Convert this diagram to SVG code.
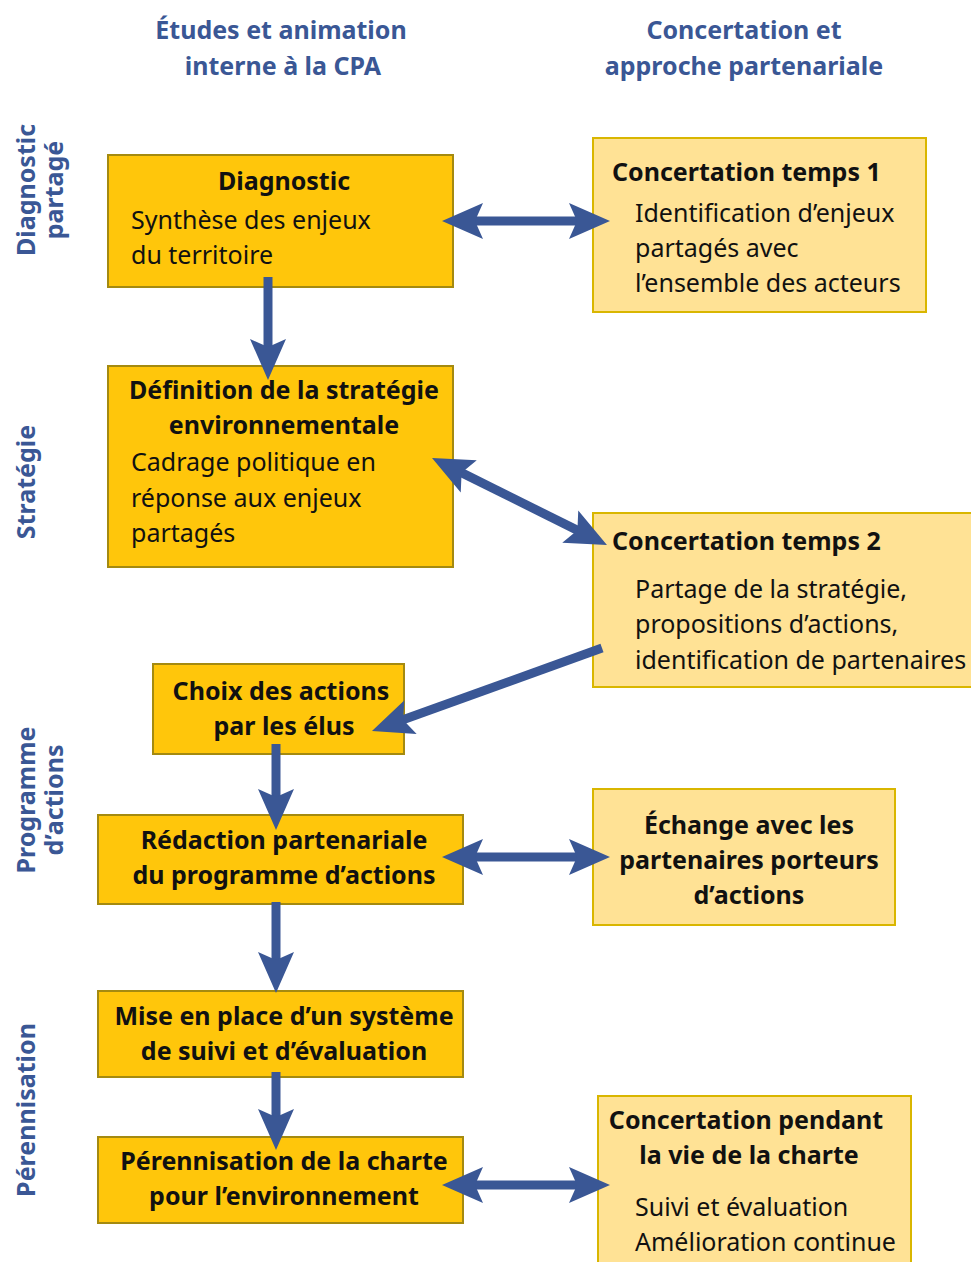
<svg xmlns="http://www.w3.org/2000/svg" width="971" height="1262" viewBox="0 0 971 1262">
<style>
text{font-family:"Noto Sans","Open Sans","Liberation Sans",sans-serif;fill:#111}
.b{font-weight:bold;font-size:25px}
.n{font-size:25px}
.c{text-anchor:middle}
.h{font-weight:bold;font-size:25px;fill:#3A5795;text-anchor:middle}
.dark{fill:#FFC60B;stroke:#A48A10;stroke-width:2}
.light{fill:#FFE295;stroke:#D9B600;stroke-width:2}
.arr{stroke:#3A5795;stroke-width:9;fill:none}
</style>
<defs>
<marker id="ah" viewBox="-42 -20 44 40" refX="-30" refY="0" markerWidth="44" markerHeight="40" markerUnits="userSpaceOnUse" orient="auto-start-reverse">
<path d="M0,0 L-41,-18 L-33,0 L-41,18 Z" fill="#3A5795"/>
</marker>
</defs>
<rect width="971" height="1262" fill="#fff"/>
<g id="headers">
<text class="h" x="281" y="39">Études et animation</text>
<text class="h" x="283" y="75">interne à la CPA</text>
<text class="h" x="744" y="39">Concertation et</text>
<text class="h" x="744" y="75">approche partenariale</text>
</g>
<g id="side-labels">
<text class="h" transform="translate(35,190) rotate(-90)">Diagnostic</text>
<text class="h" transform="translate(63,190) rotate(-90)">partagé</text>
<text class="h" transform="translate(35,482) rotate(-90)">Stratégie</text>
<text class="h" transform="translate(35,800) rotate(-90)">Programme</text>
<text class="h" transform="translate(63,800) rotate(-90)">d’actions</text>
<text class="h" transform="translate(35,1110) rotate(-90)">Pérennisation</text>
</g>
<g id="diagnostic">
<rect class="dark" x="108" y="155" width="345" height="132"/>
<text class="b c" x="284" y="190">Diagnostic</text>
<text class="n" x="131" y="229">Synthèse des enjeux</text>
<text class="n" x="131" y="264">du territoire</text>
</g>
<g id="concertation1">
<rect class="light" x="593" y="138" width="333" height="174"/>
<text class="b" x="612" y="181">Concertation temps 1</text>
<text class="n" x="635" y="222">Identification d’enjeux</text>
<text class="n" x="635" y="257">partagés avec</text>
<text class="n" x="635" y="292">l’ensemble des acteurs</text>
</g>
<g id="definition">
<rect class="dark" x="108" y="366" width="345" height="201"/>
<text class="b c" x="284" y="399">Définition de la stratégie</text>
<text class="b c" x="284" y="434">environnementale</text>
<text class="n" x="131" y="471">Cadrage politique en</text>
<text class="n" x="131" y="507">réponse aux enjeux</text>
<text class="n" x="131" y="542">partagés</text>
</g>
<g id="concertation2">
<rect class="light" x="593" y="513" width="390" height="174"/>
<text class="b" x="612" y="550">Concertation temps 2</text>
<text class="n" x="635" y="598">Partage de la stratégie,</text>
<text class="n" x="635" y="633">propositions d’actions,</text>
<text class="n" x="635" y="669">identification de partenaires</text>
</g>
<g id="choix">
<rect class="dark" x="153" y="664" width="251" height="90"/>
<text class="b c" x="281" y="700">Choix des actions</text>
<text class="b c" x="284" y="735">par les élus</text>
</g>
<g id="redaction">
<rect class="dark" x="98" y="815" width="365" height="89"/>
<text class="b c" x="284" y="849">Rédaction partenariale</text>
<text class="b c" x="284" y="884">du programme d’actions</text>
</g>
<g id="echange">
<rect class="light" x="593" y="789" width="302" height="136"/>
<text class="b c" x="749" y="834">Échange avec les</text>
<text class="b c" x="749" y="869">partenaires porteurs</text>
<text class="b c" x="749" y="904">d’actions</text>
</g>
<g id="mise-en-place">
<rect class="dark" x="98" y="991" width="365" height="86"/>
<text class="b c" x="284" y="1025">Mise en place d’un système</text>
<text class="b c" x="284" y="1060">de suivi et d’évaluation</text>
</g>
<g id="perennisation">
<rect class="dark" x="98" y="1137" width="365" height="86"/>
<text class="b c" x="284" y="1170">Pérennisation de la charte</text>
<text class="b c" x="284" y="1205">pour l’environnement</text>
</g>
<g id="concertation-pendant">
<rect class="light" x="598" y="1096" width="313" height="180"/>
<text class="b c" x="746" y="1129">Concertation pendant</text>
<text class="b c" x="749" y="1164">la vie de la charte</text>
<text class="n" x="635" y="1216">Suivi et évaluation</text>
<text class="n" x="635" y="1251">Amélioration continue</text>
</g>
<g id="connectors">
<line class="arr" x1="472" y1="221" x2="580" y2="221" marker-start="url(#ah)" marker-end="url(#ah)"/>
<line class="arr" x1="268" y1="277" x2="268" y2="350" marker-end="url(#ah)"/>
<line class="arr" x1="458.9" y1="471.4" x2="580.1" y2="531.6" marker-start="url(#ah)" marker-end="url(#ah)"/>
<line class="arr" x1="602" y1="648" x2="400.2" y2="720.8" marker-end="url(#ah)"/>
<line class="arr" x1="276" y1="744" x2="276" y2="800" marker-end="url(#ah)"/>
<line class="arr" x1="472" y1="857" x2="580" y2="857" marker-start="url(#ah)" marker-end="url(#ah)"/>
<line class="arr" x1="276" y1="902" x2="276" y2="963" marker-end="url(#ah)"/>
<line class="arr" x1="276" y1="1072" x2="276" y2="1120" marker-end="url(#ah)"/>
<line class="arr" x1="472" y1="1185" x2="580" y2="1185" marker-start="url(#ah)" marker-end="url(#ah)"/>
</g>
</svg>
